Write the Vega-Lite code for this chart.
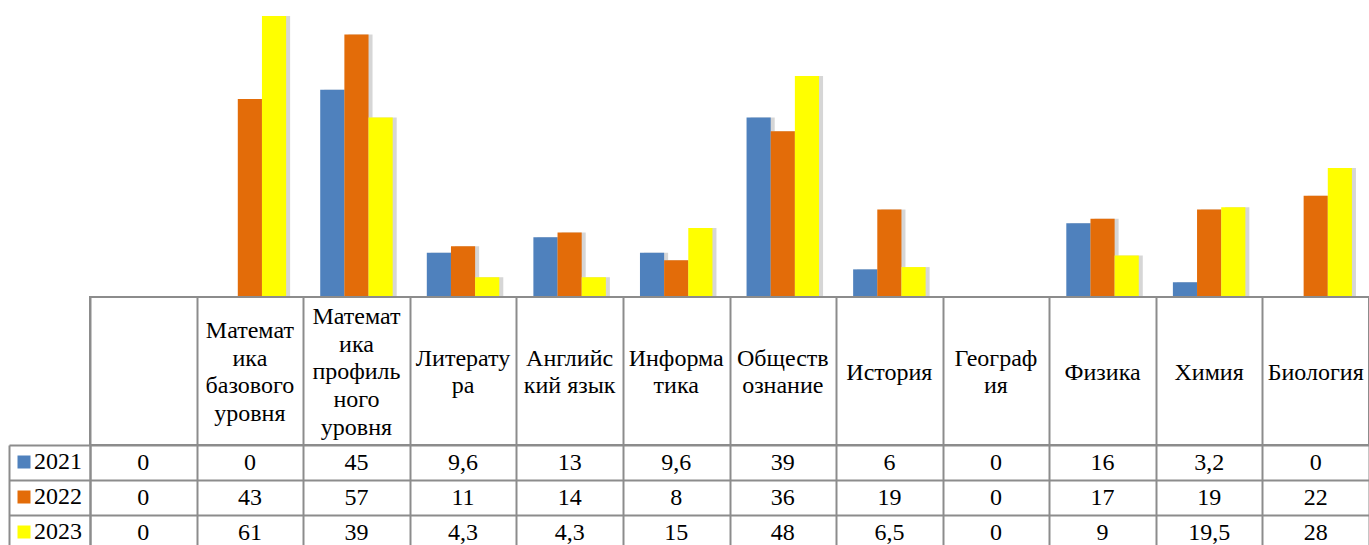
{
  "$schema": "https://vega.github.io/schema/vega-lite/v6.json",
  "autosize": {"type": "pad"},
  "bounds": "flush",
  "padding": {"left": 8, "top": 0, "right": 0, "bottom": 0},
  "background": "white",
  "spacing": 0,
  "config": {
    "view": {"stroke": null},
    "font": "Liberation Serif",
    "text": {"font": "Liberation Serif"},
    "locale": {"number": {"decimal": ",", "thousands": "\u00a0", "grouping": [3], "currency": ["", " ₽"]}}
  },
  "datasets": {
    "scores": [
      {"id": 0, "year": "2021", "value": 0}, {"id": 0, "year": "2022", "value": 0}, {"id": 0, "year": "2023", "value": 0},
      {"id": 1, "year": "2021", "value": 0}, {"id": 1, "year": "2022", "value": 43}, {"id": 1, "year": "2023", "value": 61},
      {"id": 2, "year": "2021", "value": 45}, {"id": 2, "year": "2022", "value": 57}, {"id": 2, "year": "2023", "value": 39},
      {"id": 3, "year": "2021", "value": 9.6}, {"id": 3, "year": "2022", "value": 11}, {"id": 3, "year": "2023", "value": 4.3},
      {"id": 4, "year": "2021", "value": 13}, {"id": 4, "year": "2022", "value": 14}, {"id": 4, "year": "2023", "value": 4.3},
      {"id": 5, "year": "2021", "value": 9.6}, {"id": 5, "year": "2022", "value": 8}, {"id": 5, "year": "2023", "value": 15},
      {"id": 6, "year": "2021", "value": 39}, {"id": 6, "year": "2022", "value": 36}, {"id": 6, "year": "2023", "value": 48},
      {"id": 7, "year": "2021", "value": 6}, {"id": 7, "year": "2022", "value": 19}, {"id": 7, "year": "2023", "value": 6.5},
      {"id": 8, "year": "2021", "value": 0}, {"id": 8, "year": "2022", "value": 0}, {"id": 8, "year": "2023", "value": 0},
      {"id": 9, "year": "2021", "value": 16}, {"id": 9, "year": "2022", "value": 17}, {"id": 9, "year": "2023", "value": 9},
      {"id": 10, "year": "2021", "value": 3.2}, {"id": 10, "year": "2022", "value": 19}, {"id": 10, "year": "2023", "value": 19.5},
      {"id": 11, "year": "2021", "value": 0}, {"id": 11, "year": "2022", "value": 22}, {"id": 11, "year": "2023", "value": 28}
    ],
    "subjects": [
      {"id": 0, "label": ""},
      {"id": 1, "label": "Математ|ика|базового|уровня"},
      {"id": 2, "label": "Математ|ика|профиль|ного|уровня"},
      {"id": 3, "label": "Литерату|ра"},
      {"id": 4, "label": "Английс|кий язык"},
      {"id": 5, "label": "Информа|тика"},
      {"id": 6, "label": "Обществ|ознание"},
      {"id": 7, "label": "История"},
      {"id": 8, "label": "Географ|ия"},
      {"id": 9, "label": "Физика"},
      {"id": 10, "label": "Химия"},
      {"id": 11, "label": "Биология"}
    ]
  },
  "vconcat": [
    {
      "width": 1279,
      "height": 297,
      "data": {"name": "scores"},
      "layer": [
        {
          "mark": {"type": "bar", "color": "#000000", "opacity": 0.16},
          "encoding": {
            "x": {"field": "id", "type": "ordinal", "axis": null, "scale": {"paddingInner": 0.32, "paddingOuter": 0.16}},
            "xOffset": {"field": "year", "type": "nominal", "scale": {"range": [4, 76.5]}},
            "y": {"field": "value", "type": "quantitative", "axis": null, "scale": {"domain": [0, 64.5], "nice": false}}
          }
        },
        {
          "mark": {"type": "bar"},
          "encoding": {
            "x": {"field": "id", "type": "ordinal", "axis": null, "scale": {"paddingInner": 0.32, "paddingOuter": 0.16}},
            "xOffset": {"field": "year", "type": "nominal"},
            "y": {"field": "value", "type": "quantitative", "axis": null, "scale": {"domain": [0, 64.5], "nice": false}},
            "color": {
              "field": "year", "type": "nominal", "title": null,
              "scale": {"domain": ["2021", "2022", "2023"], "range": ["#4F81BD", "#E36C09", "#FFFF00"]},
              "legend": {
                "orient": "none", "legendX": -78, "legendY": 450, "padding": 0,
                "symbolType": "square", "symbolSize": 169, "symbolStrokeWidth": 0, "symbolOpacity": 1,
                "labelFont": "Liberation Serif", "labelFontSize": 24, "labelColor": "#000000",
                "labelOffset": -2, "rowPadding": 11
              }
            }
          }
        }
      ],
      "resolve": {"scale": {"xOffset": "independent"}}
    },
    {
      "width": 1279,
      "height": 148,
      "view": {"stroke": "#8c8c8c", "strokeWidth": 2},
      "data": {"name": "subjects"},
      "encoding": {
        "x": {"field": "id", "type": "ordinal", "scale": {"paddingInner": 0, "paddingOuter": 0},
          "axis": {"orient": "top", "labels": false, "ticks": false, "domain": false, "title": null, "grid": true, "tickBand": "extent", "gridColor": "#8c8c8c", "gridWidth": 2, "gridOpacity": 1}},
        "text": {"field": "label", "type": "nominal"}
      },
      "layer": [
        {
          "transform": [{"filter": "length(split(datum.label, '|')) == 1"}],
          "mark": {"type": "text", "font": "Liberation Serif", "fontSize": 24, "lineBreak": "|", "lineHeight": 27.7, "baseline": "middle", "align": "center", "color": "#000000", "dy": 1.5}
        },
        {
          "transform": [{"filter": "length(split(datum.label, '|')) == 2"}],
          "mark": {"type": "text", "font": "Liberation Serif", "fontSize": 24, "lineBreak": "|", "lineHeight": 27.7, "baseline": "middle", "align": "center", "color": "#000000", "dy": -12.35}
        },
        {
          "transform": [{"filter": "length(split(datum.label, '|')) == 4"}],
          "mark": {"type": "text", "font": "Liberation Serif", "fontSize": 24, "lineBreak": "|", "lineHeight": 27.7, "baseline": "middle", "align": "center", "color": "#000000", "dy": -40.05}
        },
        {
          "transform": [{"filter": "length(split(datum.label, '|')) == 5"}],
          "mark": {"type": "text", "font": "Liberation Serif", "fontSize": 24, "lineBreak": "|", "lineHeight": 27.7, "baseline": "middle", "align": "center", "color": "#000000", "dy": -53.9}
        }
      ]
    },
    {
      "width": 1279,
      "height": 100,
      "data": {"name": "scores"},
      "layer": [
        {
          "mark": {"type": "text", "font": "Liberation Serif", "fontSize": 24, "baseline": "middle", "align": "center", "color": "#000000"},
          "encoding": {
            "x": {"field": "id", "type": "ordinal", "scale": {"paddingInner": 0, "paddingOuter": 0},
              "axis": {"orient": "top", "labels": false, "ticks": false, "domain": false, "title": null, "grid": true, "tickBand": "extent", "gridColor": "#8c8c8c", "gridWidth": 2, "gridOpacity": 1}},
            "y": {"field": "year", "type": "nominal", "scale": {"domain": ["2021", "2022", "2023"], "range": [0, 105], "paddingInner": 0, "paddingOuter": 0},
              "axis": {"orient": "left", "labels": false, "title": null, "grid": true, "tickBand": "extent", "gridColor": "#8c8c8c", "gridWidth": 2, "gridOpacity": 1, "ticks": true, "tickSize": 81, "tickColor": "#8c8c8c", "tickWidth": 2, "domain": true, "domainColor": "#8c8c8c", "domainWidth": 2}},
            "text": {"field": "value", "type": "quantitative", "format": "~g"}
          }
        },
        {
          "mark": {"type": "text", "text": "", "opacity": 0},
          "encoding": {
            "y": {"field": "year", "type": "nominal", "scale": {"domain": ["2021", "2022", "2023"], "range": [0, 105], "paddingInner": 0, "paddingOuter": 0},
              "axis": {"orient": "left", "offset": 81, "labels": false, "title": null, "grid": false, "ticks": false, "domain": true, "domainColor": "#8c8c8c", "domainWidth": 2}}
          }
        }
      ],
      "resolve": {"axis": {"y": "independent"}}
    }
  ]
}
